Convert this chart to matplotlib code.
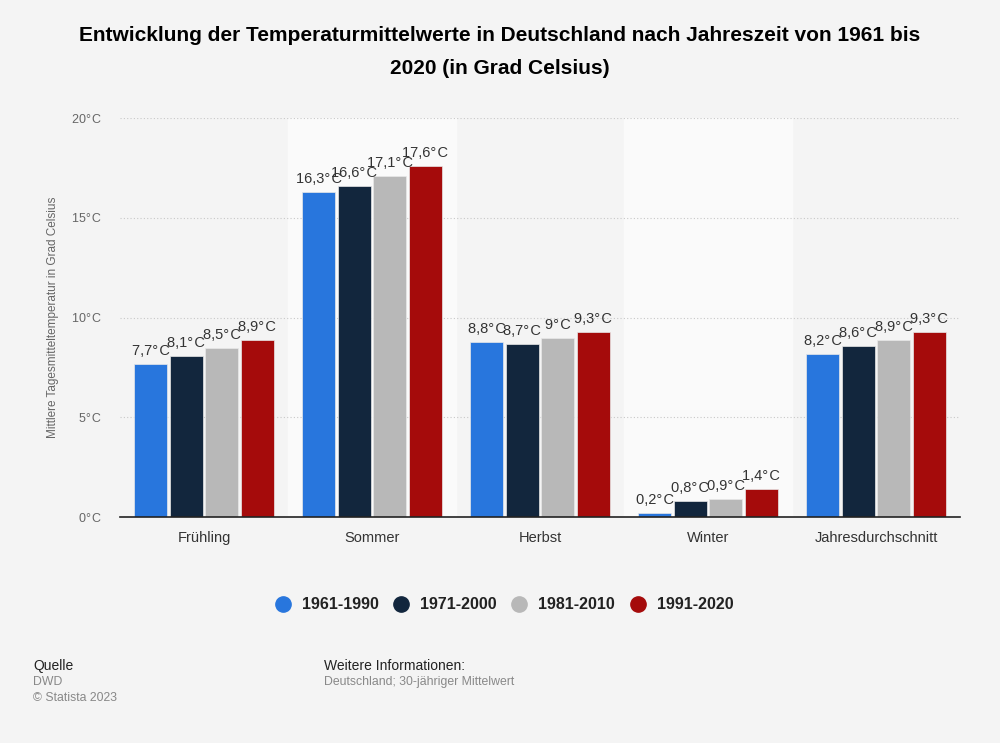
import numpy as np
import matplotlib
matplotlib.use("Agg")
import matplotlib.pyplot as plt
from matplotlib.lines import Line2D

plt.rcParams['font.family'] = ['Liberation Sans', 'DejaVu Sans']

CATEGORIES = ["Frühling", "Sommer", "Herbst", "Winter", "Jahresdurchschnitt"]
SERIES = ["1961-1990", "1971-2000", "1981-2010", "1991-2020"]
V_1961 = [7.7, 16.3, 8.8, 0.2, 8.2]
V_1971 = [8.1, 16.6, 8.7, 0.8, 8.6]
V_1981 = [8.5, 17.1, 9.0, 0.9, 8.9]
V_1991 = [8.9, 17.6, 9.3, 1.4, 9.3]
COLORS = ["#2876dd", "#12263d", "#b8b8b8", "#a50b0b"]
YTICKS = [0, 5, 10, 15, 20]

DEG = "°\u200aC"


def fmt(v):
    s = f"{v:.1f}".rstrip("0").rstrip(".")
    return s.replace(".", ",") + DEG


fig = plt.figure(figsize=(10, 7.43), dpi=100, facecolor="#f4f4f4")
ax = fig.add_axes([0.12, 0.304, 0.84, 0.537])
ax.set_facecolor("#f4f4f4")

x = np.arange(len(CATEGORIES))
step = 0.212
width = 0.198
values = [V_1961, V_1971, V_1981, V_1991]

# lighter background bands behind every second category
for i in (1, 3):
    ax.axvspan(i - 0.5, i + 0.5, color="#fafafa", zorder=0)

for k, (vals, col) in enumerate(zip(values, COLORS)):
    pos = x + (k - 1.5) * step
    ax.bar(pos, vals, width=width, color=col, edgecolor="#e8e8e8",
           linewidth=0.5, zorder=3)
    for p, v in zip(pos, vals):
        ax.text(p, v + 0.3, fmt(v), ha="center", va="bottom", fontsize=10.5,
                color="#333333", zorder=4)

ax.set_xlim(-0.5, len(CATEGORIES) - 0.5)
ax.set_ylim(0, 20)
ax.set_yticks(YTICKS)
ax.set_yticklabels([f"{t}{DEG}" for t in YTICKS], fontsize=9, color="#666666")
ax.set_xticks(x)
ax.set_xticklabels(CATEGORIES, fontsize=10.5, color="#333333")
ax.tick_params(axis="both", length=0)
ax.tick_params(axis="x", pad=10)
ax.tick_params(axis="y", pad=14)
ax.grid(axis="y", color="#c8c8c8", linestyle=(0, (1, 2)), linewidth=0.8, zorder=1)
for s in ("top", "right", "left"):
    ax.spines[s].set_visible(False)
ax.spines["bottom"].set_color("#222222")
ax.spines["bottom"].set_linewidth(1.2)
ax.spines["bottom"].set_zorder(5)
ax.set_ylabel("Mittlere Tagesmitteltemperatur in Grad Celsius", fontsize=8.5,
              color="#666666", labelpad=9)

fig.text(0.5, 0.952, "Entwicklung der Temperaturmittelwerte in Deutschland nach Jahreszeit von 1961 bis",
         ha="center", va="center", fontsize=15, fontweight="bold", color="#000000")
fig.text(0.5, 0.908, "2020 (in Grad Celsius)",
         ha="center", va="center", fontsize=15, fontweight="bold", color="#000000")

handles = [Line2D([0], [0], marker="o", linestyle="", markersize=11,
                  markerfacecolor=c, markeredgecolor=c) for c in COLORS]
leg = fig.legend(handles, SERIES, loc="center", bbox_to_anchor=(0.5, 0.186),
                 ncol=4, frameon=False, fontsize=11.5, handletextpad=0.2,
                 columnspacing=0.4)
for t in leg.get_texts():
    t.set_fontweight("bold")
    t.set_color("#222222")

fig.text(0.033, 0.104, "Quelle", fontsize=10, color="#222222", va="center")
fig.text(0.033, 0.082, "DWD", fontsize=8.8, color="#888888", va="center")
fig.text(0.033, 0.061, "© Statista 2023", fontsize=8.8, color="#888888", va="center")
fig.text(0.324, 0.104, "Weitere Informationen:", fontsize=10, color="#222222", va="center")
fig.text(0.324, 0.082, "Deutschland; 30-jähriger Mittelwert", fontsize=8.8,
         color="#888888", va="center")

fig.savefig("out.png", dpi=100, facecolor=fig.get_facecolor())
